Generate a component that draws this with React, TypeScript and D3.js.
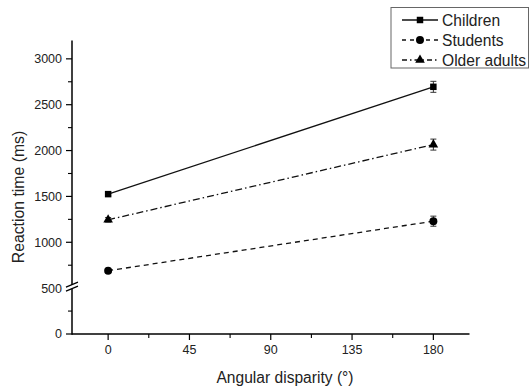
import React from "react";
import * as d3 from "d3";

const angles = [0, 180];
const seriesNames = ["Children", "Students", "Older adults"];
const childrenRT = [1525, 2695];
const studentsRT = [690, 1230];
const olderRT = [1245, 2065];
const childrenErr = [20, 60];
const studentsErr = [20, 55];
const olderErr = [25, 60];
const xTicks = [0, 45, 90, 135, 180];
const yTicks = [0, 500, 1000, 1500, 2000, 2500, 3000];

const W = 530, H = 391;
const FONT = "'Liberation Sans', Arial, sans-serif";

export default function App() {
  const x = d3.scaleLinear().domain([-20, 200]).range([72, 469.5]);
  const y = d3.scaleLinear().domain([0, 3200]).range([334, 40.5]);
  const series = [
    { name: seriesNames[0], vals: childrenRT, err: childrenErr, dash: "none", marker: "square" },
    { name: seriesNames[1], vals: studentsRT, err: studentsErr, dash: "5,4", marker: "circle" },
    { name: seriesNames[2], vals: olderRT, err: olderErr, dash: "7,3,1.5,3", marker: "triangle" },
  ];
  const line = d3.line<number>().x((_, i) => x(angles[i])).y((d) => y(d));
  const xMinor = d3.range(22.5, 200, 45);
  const yMinor = d3.range(250, 3200, 500);
  const sym = (m: string, s: number) =>
    d3.symbol().type(m === "square" ? d3.symbolSquare : m === "circle" ? d3.symbolCircle : d3.symbolTriangle).size(s)() as string;
  const msize: Record<string, number> = { square: 42, circle: 50, triangle: 40 };
  const brkY = y(500);
  const axisX = x(-20);
  const axisY = y(0);
  const legendRows = [20, 40, 60];

  return (
    <svg width={W} height={H} style={{ position: "absolute", left: 0, top: 0, background: "#fff" }} fontFamily={FONT}>
      {series.map((s) => (
        <path key={s.name} d={line(s.vals) as string} fill="none" stroke="#111" strokeWidth={1.3} strokeDasharray={s.dash} />
      ))}
      {series.map((s) =>
        s.vals.map((v, i) => {
          const cx = x(angles[i]);
          const y1 = y(v + s.err[i]);
          const y2 = y(v - s.err[i]);
          return (
            <g key={s.name + i} stroke="#333" strokeWidth={1}>
              <line x1={cx} x2={cx} y1={y1} y2={y2} />
              <line x1={cx - 3} x2={cx + 3} y1={y1} y2={y1} />
              <line x1={cx - 3} x2={cx + 3} y1={y2} y2={y2} />
            </g>
          );
        })
      )}
      {series.map((s) =>
        s.vals.map((v, i) => (
          <path key={s.name + "m" + i} d={sym(s.marker, msize[s.marker])} transform={`translate(${x(angles[i])},${y(v)})`} fill="#000" />
        ))
      )}
      <g stroke="#000" strokeWidth={1.5}>
        <line x1={axisX} x2={axisX} y1={y(3200)} y2={axisY + 0.75} />
        <line x1={axisX} x2={x(200)} y1={axisY} y2={axisY} />
      </g>
      {yTicks.map((t) => (
        <g key={"yt" + t}>
          <line x1={axisX - 6} x2={axisX} y1={y(t)} y2={y(t)} stroke="#000" strokeWidth={1.2} />
          <text x={axisX - 10} y={y(t)} dy="0.35em" textAnchor="end" fontSize={12.5} fill="#222">{t}</text>
        </g>
      ))}
      {yMinor.map((t) => (
        <line key={"ym" + t} x1={axisX - 4} x2={axisX} y1={y(t)} y2={y(t)} stroke="#000" strokeWidth={1.1} />
      ))}
      {xTicks.map((t) => (
        <g key={"xt" + t}>
          <line x1={x(t)} x2={x(t)} y1={axisY} y2={axisY + 6} stroke="#000" strokeWidth={1.2} />
          <text x={x(t)} y={axisY + 20} textAnchor="middle" fontSize={12.5} fill="#222">{t}</text>
        </g>
      ))}
      {xMinor.map((t) => (
        <line key={"xm" + t} x1={x(t)} x2={x(t)} y1={axisY} y2={axisY + 4} stroke="#000" strokeWidth={1.1} />
      ))}
      <polygon points={`${axisX - 6},${brkY + 3} ${axisX + 6},${brkY - 2} ${axisX + 6},${brkY - 6} ${axisX - 6},${brkY - 1}`} fill="#fff" />
      <g stroke="#000" strokeWidth={1.2}>
        <line x1={axisX - 6} x2={axisX + 6} y1={brkY + 3} y2={brkY - 2} />
        <line x1={axisX - 6} x2={axisX + 6} y1={brkY - 1} y2={brkY - 6} />
      </g>
      <text x={285} y={383} textAnchor="middle" fontSize={15.6} fill="#222">Angular disparity (°)</text>
      <text transform={`translate(24,${197}) rotate(-90)`} textAnchor="middle" fontSize={15.8} fill="#222">Reaction time (ms)</text>
      <rect x={391} y={7.5} width={137.5} height={60.5} fill="#fff" stroke="#666" strokeWidth={1} />
      {series.map((s, i) => (
        <g key={"lg" + s.name} transform={`translate(0,${legendRows[i]})`}>
          <line x1={402} x2={438} y1={0} y2={0} stroke="#111" strokeWidth={1.3} strokeDasharray={s.dash === "none" ? "none" : s.dash === "5,4" ? "4,4" : "5,3,1.5,3"} />
          <path d={sym(s.marker, msize[s.marker])} transform={`translate(420,0)`} fill="#000" />
          <text x={442} y={0} dy="0.36em" fontSize={15.6} fill="#222">{s.name}</text>
        </g>
      ))}
    </svg>
  );
}
